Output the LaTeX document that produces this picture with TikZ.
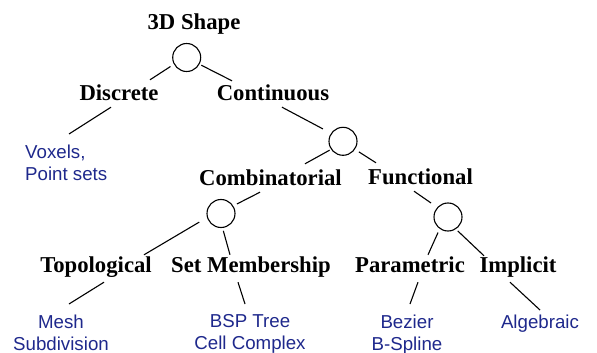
\documentclass[tikz,border=0pt]{standalone}
\usepackage{fontspec}
\setmainfont{Liberation Serif}
\newfontfamily\leaffont{Liberation Sans}
\definecolor{leafblue}{RGB}{30,40,140}
\begin{document}
\begin{tikzpicture}[x=1pt,y=-1pt,
    every node/.style={inner sep=0pt},
    cls/.style={font=\fontsize{22.7}{26}\selectfont\bfseries, anchor=base, text height=15pt, text depth=5pt},
    leaf/.style={font=\leaffont\fontsize{18.7}{22}\selectfont, text=leafblue, align=center, anchor=north},
    split/.style={circle, draw, line width=1.1pt, minimum size=28pt},
    link/.style={line width=1.1pt}]
    \useasboundingbox (0,0) rectangle (597,353);
    \node [cls] (shape) at (194,30) {3D Shape};
    \node [split] (c1) at (186.7,57.5) {};
    \node [cls] (disc) at (119,100) {Discrete};
    \node [cls] (cont) at (273,100) {Continuous};
    \node [leaf, align=left, anchor=north west] (vox) at (25,144.5) {Voxels,\\Point sets};
    \node [split] (c2) at (343,141.3) {};
    \node [cls] (comb) at (270.5,185) {Combinatorial};
    \node [cls] (func) at (420.5,184) {Functional};
    \node [split] (c3) at (221,213.5) {};
    \node [split] (c4) at (448,217) {};
    \node [cls] (topo) at (96,272) {Topological};
    \node [cls] (setm) at (251,272) {Set Membership};
    \node [cls] (para) at (410,272) {Parametric};
    \node [cls] (impl) at (518,272) {Implicit};
    \node [leaf] (mesh) at (61,314.5) {Mesh\\Subdivision};
    \node [leaf] (bsp) at (250,314.5) {BSP Tree\\Cell Complex};
    \node [leaf] (bez) at (407,314.5) {Bezier\\B-Spline};
    \node [leaf] (alg) at (540,314.5) {Algebraic};
    \draw [link, shorten <=4pt] (c1.208) -- ([shift={(31,-5)}]disc.north);
    \draw [link, shorten <=2pt] (c1.332) -- ([shift={(-41,-4)}]cont.north);
    \draw [link] ([shift={(-8,2)}]disc.south) -- ([shift={(44,-10.5)}]vox.north west);
    \draw [link, shorten >=9pt] ([shift={(9,2)}]cont.south) -- (c2.146);
    \draw [link, shorten <=1.5pt] (c2.214) -- ([shift={(34.5,-6)}]comb.north);
    \draw [link, shorten <=4.5pt] (c2.326) -- ([shift={(-44.5,-6)}]func.north);
    \draw [link, shorten <=4pt] (c3.32) -- ([shift={(-10.5,2)}]comb.south);
    \draw [link, shorten <=9pt] (c3.196) -- ([shift={(48,-2)}]topo.north);
    \draw [link, shorten <=3pt] (c3.276) -- ([shift={(-21,-2)}]setm.north);
    \draw [link] ([shift={(8,5)}]topo.south) -- ([shift={(8,-10.5)}]mesh.north);
    \draw [link] ([shift={(-13,5)}]setm.south) -- ([shift={(-5,-10.5)}]bsp.north);
    \draw [link, shorten >=7.5pt] ([shift={(-6.5,2)}]func.south) -- (c4.138);
    \draw [link, shorten <=4pt] (c4.235) -- ([shift={(18,-2)}]para.north);
    \draw [link, shorten <=2.5pt] (c4.303) -- ([shift={(-34,-1)}]impl.north);
    \draw [link] ([shift={(8,5)}]para.south) -- ([shift={(3,-10.5)}]bez.north);
    \draw [link] ([shift={(-8,5)}]impl.south) -- ([shift={(0,-4.5)}]alg.north);
\end{tikzpicture}
\end{document}
